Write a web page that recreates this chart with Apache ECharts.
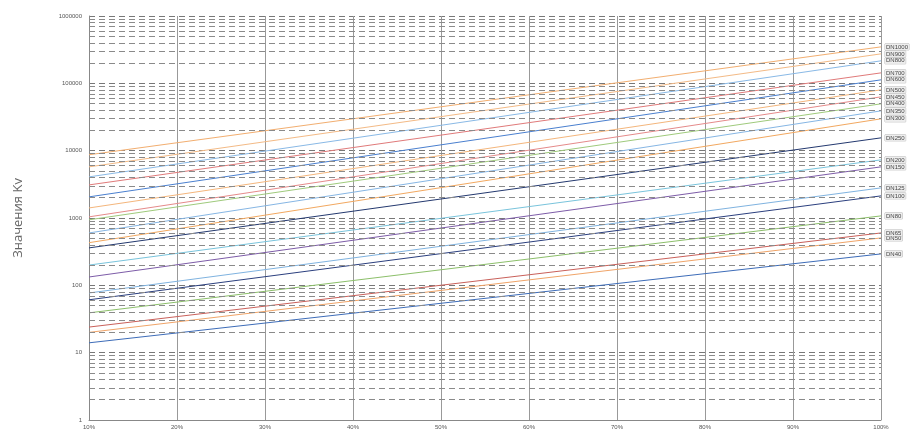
<!DOCTYPE html>
<html>
<head>
<meta charset="utf-8">
<script src="https://cdn.jsdelivr.net/npm/echarts@6/dist/echarts.min.js"></script>
<style>
html,body{margin:0;padding:0;background:#fff;}
#chart{width:910px;height:430px;}
</style>
</head>
<body>
<div id="chart"></div>
<script>
// Valve opening (x axis), %
const xTickLabels = ['10%','20%','30%','40%','50%','60%','70%','80%','90%','100%'];
const seriesNames = ['DN40','DN50','DN65','DN80','DN100','DN125','DN150','DN200','DN250','DN300',
                     'DN350','DN400','DN450','DN500','DN600','DN700','DN800','DN900','DN1000'];
// Kv read at 10% opening
const kvAt10 = [14, 20, 24, 39, 61, 77, 133, 200, 360, 430, 600, 940, 1040, 1410, 2060, 3100, 4080, 5750, 8700];
// Kv read at 100% opening
const kvAt100 = [293, 506, 600, 1075, 2130, 2800, 5750, 7300, 15500, 29700, 39000, 49600, 63000, 80000, 112700, 143000, 216000, 274000, 348000];
const lineColors = ['#3d6cb8','#f0a468','#c9605a','#8cbf6a','#2b3f7e','#7fb3e0','#7d5ca8','#79c4dc',
                    '#24396f','#f2a860','#86b6e4','#9fca7c','#e58a8a','#f4b67c','#4a7fcf','#e07a7a',
                    '#89b9e6','#f3ba86','#f2ae70'];
// Minor grid (2..9 × each decade)
const minorMultipliers = [2,3,4,5,6,7,8,9];
const decades = [1,10,100,1000,10000,100000];

const minorGrid = [];
decades.forEach(d => minorMultipliers.forEach(m => minorGrid.push({yAxis: d * m})));

const series = seriesNames.map((name, i) => ({
  name: name,
  type: 'line',
  data: [[10, kvAt10[i]], [100, kvAt100[i]]],
  symbol: 'none',
  silent: true,
  lineStyle: {width: 1, color: lineColors[i]},
  itemStyle: {color: lineColors[i]},
  endLabel: {
    show: true,
    formatter: '{a}',
    fontSize: 6,
    fontFamily: 'Liberation Sans',
    color: '#444',
    distance: 4,
    backgroundColor: '#eeeeee',
    borderColor: '#bbbbbb',
    borderWidth: 0.5,
    padding: [0, 1]
  },
  z: 3
}));

series.push({
  name: 'grid',
  type: 'line',
  data: [],
  markLine: {
    silent: true,
    symbol: 'none',
    label: {show: false},
    lineStyle: {type: [6, 4], color: '#8a8a8a', width: 1},
    data: minorGrid,
    animation: false
  },
  z: 1
});

const chart = echarts.init(document.getElementById('chart'));
chart.setOption({
  animation: false,
  backgroundColor: '#fff',
  grid: {left: 89, right: 29, top: 16, height: 404},
  xAxis: {
    type: 'value',
    min: 10, max: 100, interval: 10,
    axisLine: {show: true, lineStyle: {color: '#888', width: 1}},
    axisTick: {show: false},
    axisLabel: {
      fontSize: 6, color: '#555', margin: 4, fontFamily: 'Liberation Sans',
      formatter: v => xTickLabels[Math.round(v / 10) - 1]
    },
    splitLine: {show: true, lineStyle: {color: '#999', width: 1}}
  },
  yAxis: {
    type: 'log', logBase: 10, min: 1, max: 1000000,
    name: 'Значения Kv',
    nameLocation: 'middle',
    nameGap: 64,
    nameTextStyle: {fontSize: 13, color: '#666', fontFamily: 'Open Sans'},
    axisLine: {show: true, lineStyle: {color: '#888', width: 1}},
    axisTick: {show: false},
    axisLabel: {fontSize: 6, color: '#555', margin: 7, fontFamily: 'Liberation Sans',
                formatter: v => String(Math.round(v))},
    splitLine: {show: true, lineStyle: {type: [6, 4], color: '#777', width: 1}}
  },
  series: series
});
</script>
</body>
</html>
